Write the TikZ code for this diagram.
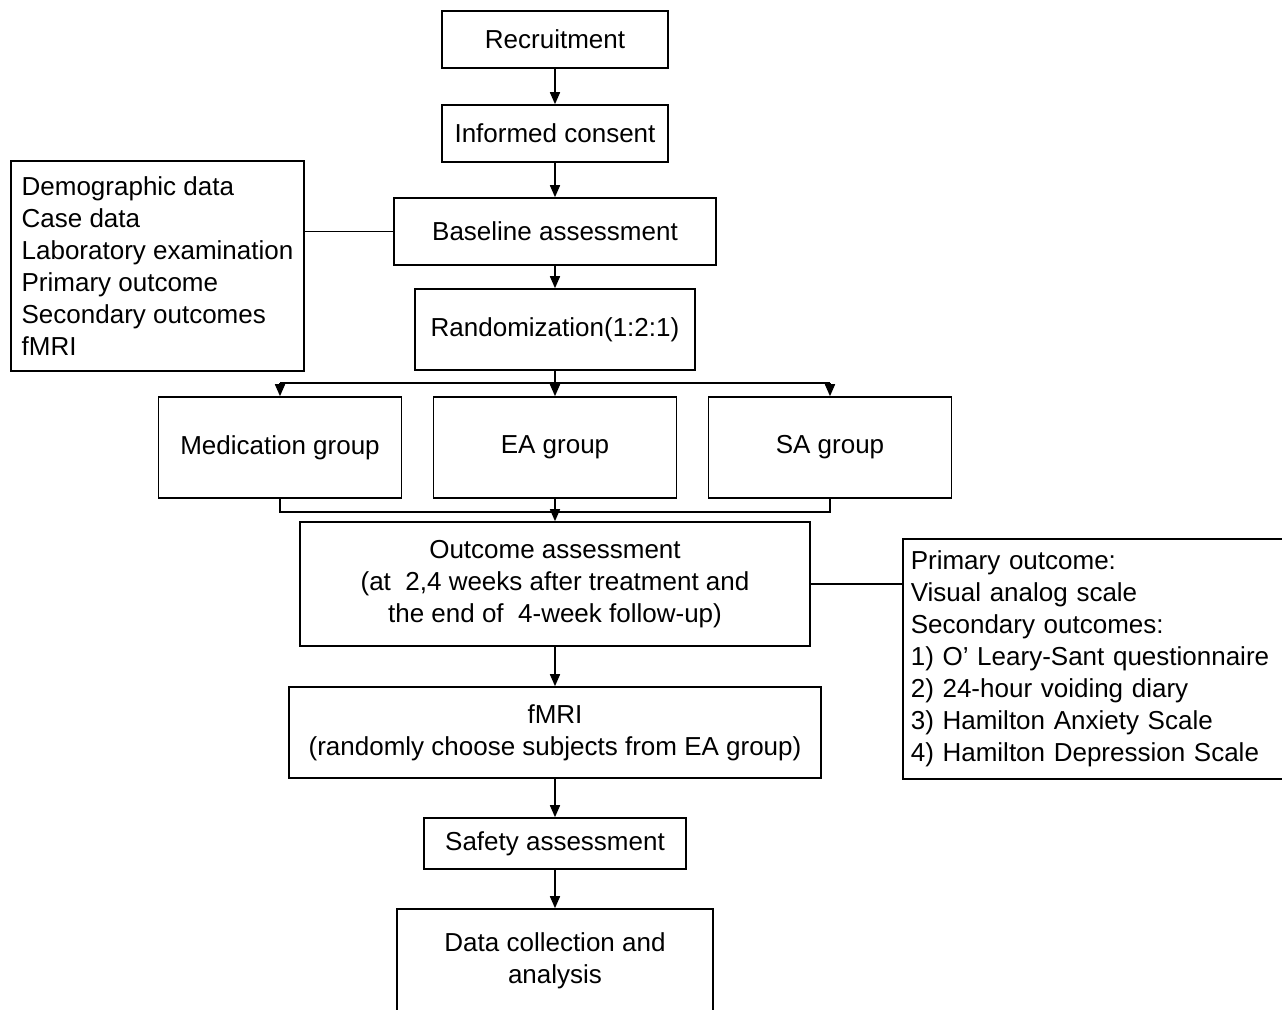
\documentclass[tikz,border=0pt]{standalone}
\usepackage{fontspec}
\setmainfont{Liberation Sans}
\usetikzlibrary{arrows.meta}

\begin{document}
\begin{tikzpicture}[
  x=0.5pt, y=-0.5pt,
  every node/.style={font=\fontsize{13}{16}\selectfont},
  box/.style={draw, line width=0.8pt, align=center, inner sep=0pt},
  list/.style={draw, line width=0.8pt, align=left, inner sep=4pt},
  arr/.style={-{Triangle[length=6pt,width=5pt]}, line width=0.8pt},
  link/.style={line width=0.8pt}
]
  \useasboundingbox (0,0) rectangle (1282,1009);
  \node[box, minimum width=113pt, minimum height=28.5pt] (recruit) at (555,39.5) {Recruitment};
  \node[box, minimum width=113pt, minimum height=28.5pt] (consent) at (555,133.5) {Informed consent};
  \node[box, minimum width=161pt, minimum height=33.5pt] (base) at (555,231.5) {Baseline assessment};
  \node[box, minimum width=140pt, minimum height=40.5pt] (random) at (555,329.5) {Randomization(1:2:1)};
  \node[list, minimum width=146.5pt, minimum height=105pt] (baselist) at (157.5,266)
    {Demographic data\\Case data\\Laboratory examination\\Primary outcome\\Secondary outcomes\\fMRI};

  \node[box, minimum width=121.5pt, minimum height=50.5pt] (med) at (280,447.5) {Medication group};
  \node[box, minimum width=121.5pt, minimum height=50.5pt] (ea) at (555,447.5) {EA group};
  \node[box, minimum width=121.5pt, minimum height=50.5pt] (sa) at (830,447.5) {SA group};

  \node[box, minimum width=255pt, minimum height=62pt] (outcome) at (555,584)
    {Outcome assessment\\(at~~2,4 weeks after treatment and\\the end of~~4-week follow-up)};
  \node[list, anchor=north west, text width=191pt, minimum height=120pt] (outlist) at (902,538)
    {Primary outcome:\\Visual analog scale\\Secondary outcomes:\\1) O' Leary-Sant questionnaire\\2) 24-hour voiding diary\\3) Hamilton Anxiety Scale\\4) Hamilton Depression Scale};
  \node[box, minimum width=266pt, minimum height=45.5pt] (fmri) at (555,732.5)
    {fMRI\\(randomly choose subjects from EA group)};
  \node[box, minimum width=131pt, minimum height=25.5pt] (safety) at (555,843.5) {Safety assessment};
  \node[box, minimum width=158pt, minimum height=52pt] (data) at (555,961) {Data collection and\\analysis};

  \coordinate (split) at (555,383);
  \coordinate (merge) at (555,512);

  \draw[arr] (recruit) -- (consent);
  \draw[arr] (consent) -- (base);
  \draw[arr] (base) -- (random);
  \draw[link] (base.west) -- (base.west -| baselist.east);
  \draw[arr] (random) -- (ea);
  \draw[link] (split -| med) -- (split -| sa);
  \draw[arr] (split -| med) -- (med);
  \draw[arr] (split -| sa) -- (sa);
  \draw[link] (med.south) -- (med.south |- merge) -- (sa.south |- merge) -- (sa.south);
  \draw[arr] (ea) -- (outcome);
  \draw[link] (outcome.east) -- (outcome.east -| outlist.west);
  \draw[arr] (outcome) -- (fmri);
  \draw[arr] (fmri) -- (safety);
  \draw[arr] (safety) -- (data);
\end{tikzpicture}
\end{document}
